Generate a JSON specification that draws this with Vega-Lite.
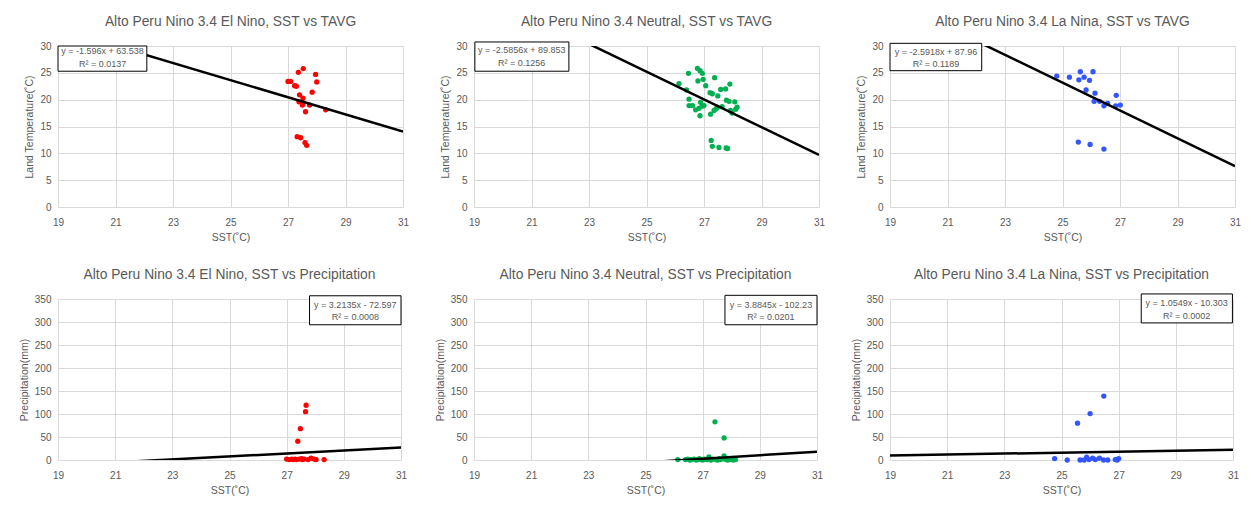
{
  "$schema": "https://vega.github.io/schema/vega-lite/v6.json",
  "background": "white",
  "padding": {"left": 19, "top": 15, "right": 3, "bottom": 6},
  "columns": 3,
  "spacing": {"row": 24, "column": 26},
  "config": {
    "font": "Liberation Sans",
    "view": {"stroke": null},
    "title": {"font": "Liberation Sans", "fontSize": 13.8, "fontWeight": "normal", "color": "#595959", "offset": 12},
    "axis": {"domain": false, "ticks": false, "grid": true, "gridColor": "#d9d9d9", "labelFont": "Liberation Sans", "labelFontSize": 10, "labelColor": "#595959", "titleFont": "Liberation Sans", "titleFontSize": 10.5, "titleFontWeight": "normal", "titleColor": "#595959", "labelOverlap": false, "labelFlush": false},
    "axisX": {"labelPadding": 10, "titlePadding": 5},
    "axisY": {"labelPadding": 7, "titlePadding": 5},
    "text": {"font": "Liberation Sans"}
  },
  "datasets": {
    "pts": [
      {"p":1,"sst":27.0,"val":23.4},{"p":1,"sst":27.09,"val":23.4},{"p":1,"sst":27.23,"val":22.6},{"p":1,"sst":27.29,"val":22.5},{"p":1,"sst":27.36,"val":25.1},{"p":1,"sst":27.53,"val":25.8},{"p":1,"sst":27.96,"val":24.7},{"p":1,"sst":28.0,"val":23.3},{"p":1,"sst":27.84,"val":21.4},{"p":1,"sst":27.4,"val":20.9},{"p":1,"sst":27.52,"val":20.3},{"p":1,"sst":27.38,"val":19.6},{"p":1,"sst":27.5,"val":19.0},{"p":1,"sst":27.53,"val":19.4},{"p":1,"sst":27.61,"val":17.75},{"p":1,"sst":27.75,"val":19.0},{"p":1,"sst":28.31,"val":18.1},{"p":1,"sst":27.32,"val":13.1},{"p":1,"sst":27.44,"val":12.9},{"p":1,"sst":27.59,"val":12.0},{"p":1,"sst":27.65,"val":11.5},
      {"p":2,"sst":26.13,"val":23.0},{"p":2,"sst":26.46,"val":24.9},{"p":2,"sst":26.77,"val":25.85},{"p":2,"sst":26.86,"val":25.4},{"p":2,"sst":26.94,"val":24.9},{"p":2,"sst":26.79,"val":23.5},{"p":2,"sst":26.97,"val":23.8},{"p":2,"sst":27.37,"val":24.1},{"p":2,"sst":27.06,"val":22.6},{"p":2,"sst":26.39,"val":21.8},{"p":2,"sst":26.48,"val":20.1},{"p":2,"sst":27.21,"val":21.3},{"p":2,"sst":27.29,"val":21.1},{"p":2,"sst":27.58,"val":21.9},{"p":2,"sst":27.75,"val":22.0},{"p":2,"sst":27.9,"val":22.9},{"p":2,"sst":27.48,"val":20.7},{"p":2,"sst":26.48,"val":18.9},{"p":2,"sst":26.6,"val":18.9},{"p":2,"sst":26.71,"val":18.1},{"p":2,"sst":26.83,"val":18.4},{"p":2,"sst":26.88,"val":19.5},{"p":2,"sst":26.86,"val":17.0},{"p":2,"sst":27.0,"val":18.9},{"p":2,"sst":27.23,"val":17.3},{"p":2,"sst":27.35,"val":18.0},{"p":2,"sst":27.46,"val":18.6},{"p":2,"sst":27.63,"val":18.7},{"p":2,"sst":27.78,"val":19.9},{"p":2,"sst":27.87,"val":19.7},{"p":2,"sst":28.07,"val":19.6},{"p":2,"sst":27.92,"val":18.0},{"p":2,"sst":27.98,"val":17.5},{"p":2,"sst":28.15,"val":18.6},{"p":2,"sst":28.1,"val":18.2},{"p":2,"sst":26.95,"val":18.8},{"p":2,"sst":27.42,"val":18.3},{"p":2,"sst":27.25,"val":12.4},{"p":2,"sst":27.29,"val":11.3},{"p":2,"sst":27.52,"val":11.1},{"p":2,"sst":27.77,"val":11.0},{"p":2,"sst":27.82,"val":10.9},
      {"p":3,"sst":24.8,"val":24.4},{"p":3,"sst":25.24,"val":24.2},{"p":3,"sst":25.57,"val":23.7},{"p":3,"sst":25.62,"val":25.2},{"p":3,"sst":25.75,"val":24.2},{"p":3,"sst":25.94,"val":23.6},{"p":3,"sst":26.06,"val":25.2},{"p":3,"sst":25.82,"val":21.8},{"p":3,"sst":26.13,"val":21.2},{"p":3,"sst":26.1,"val":19.7},{"p":3,"sst":26.29,"val":19.7},{"p":3,"sst":26.44,"val":18.85},{"p":3,"sst":26.57,"val":19.3},{"p":3,"sst":26.87,"val":20.8},{"p":3,"sst":26.85,"val":18.85},{"p":3,"sst":27.01,"val":19.0},{"p":3,"sst":25.55,"val":12.1},{"p":3,"sst":25.96,"val":11.65},{"p":3,"sst":26.44,"val":10.8},
      {"p":4,"sst":27.0,"val":2},{"p":4,"sst":27.09,"val":1},{"p":4,"sst":27.18,"val":2},{"p":4,"sst":27.23,"val":1},{"p":4,"sst":27.29,"val":2},{"p":4,"sst":27.34,"val":1},{"p":4,"sst":27.44,"val":2},{"p":4,"sst":27.52,"val":3},{"p":4,"sst":27.55,"val":1},{"p":4,"sst":27.61,"val":2},{"p":4,"sst":27.75,"val":1},{"p":4,"sst":27.85,"val":4},{"p":4,"sst":27.96,"val":2},{"p":4,"sst":28.03,"val":1},{"p":4,"sst":28.31,"val":1},{"p":4,"sst":27.39,"val":41},{"p":4,"sst":27.48,"val":68},{"p":4,"sst":27.66,"val":105},{"p":4,"sst":27.68,"val":119},
      {"p":5,"sst":26.13,"val":1},{"p":5,"sst":26.4,"val":1},{"p":5,"sst":26.48,"val":2},{"p":5,"sst":26.55,"val":0},{"p":5,"sst":26.6,"val":1},{"p":5,"sst":26.7,"val":2},{"p":5,"sst":26.77,"val":0},{"p":5,"sst":26.83,"val":1},{"p":5,"sst":26.88,"val":3},{"p":5,"sst":26.95,"val":1},{"p":5,"sst":27.0,"val":0},{"p":5,"sst":27.06,"val":2},{"p":5,"sst":27.15,"val":1},{"p":5,"sst":27.22,"val":7},{"p":5,"sst":27.29,"val":0},{"p":5,"sst":27.35,"val":2},{"p":5,"sst":27.46,"val":1},{"p":5,"sst":27.52,"val":0},{"p":5,"sst":27.58,"val":3},{"p":5,"sst":27.63,"val":1},{"p":5,"sst":27.75,"val":9},{"p":5,"sst":27.78,"val":2},{"p":5,"sst":27.87,"val":0},{"p":5,"sst":27.92,"val":1},{"p":5,"sst":27.98,"val":2},{"p":5,"sst":28.07,"val":0},{"p":5,"sst":28.15,"val":1},{"p":5,"sst":27.43,"val":83},{"p":5,"sst":27.75,"val":48},
      {"p":6,"sst":24.76,"val":3},{"p":6,"sst":25.2,"val":0},{"p":6,"sst":25.56,"val":80},{"p":6,"sst":26.0,"val":101},{"p":6,"sst":26.48,"val":139},{"p":6,"sst":25.65,"val":0},{"p":6,"sst":25.79,"val":0},{"p":6,"sst":25.88,"val":6},{"p":6,"sst":25.96,"val":1},{"p":6,"sst":26.09,"val":4},{"p":6,"sst":26.18,"val":1},{"p":6,"sst":26.33,"val":4},{"p":6,"sst":26.47,"val":0},{"p":6,"sst":26.62,"val":0},{"p":6,"sst":26.88,"val":1},{"p":6,"sst":27.0,"val":3},{"p":6,"sst":26.95,"val":0}
    ],
    "trend": [
      {"p":1,"sst":19,"val":33.214},{"p":1,"sst":31,"val":14.062},
      {"p":2,"sst":19,"val":40.727},{"p":2,"sst":31,"val":9.699},
      {"p":3,"sst":19,"val":38.716},{"p":3,"sst":31,"val":7.614},
      {"p":4,"sst":19,"val":-11.541},{"p":4,"sst":31,"val":27.022},
      {"p":5,"sst":19,"val":-28.424},{"p":5,"sst":31,"val":18.190},
      {"p":6,"sst":19,"val":9.740},{"p":6,"sst":31,"val":22.399}
    ]
  },
  "concat": [
    {
      "title": "Alto Peru Nino 3.4 El Nino, SST vs TAVG",
      "width": 345, "height": 161,
      "resolve": {"axis": {"y": "independent"}},
      "layer": [
        {"data": {"name": "pts"}, "transform": [{"filter": "datum.p === 1"}],
         "mark": {"type": "circle", "size": 28, "opacity": 1, "color": "#ff0000"},
         "encoding": {
           "x": {"field": "sst", "type": "quantitative", "title": "SST(˚C)", "scale": {"domain": [19, 31], "nice": false, "zero": false}, "axis": {"values": [19,21,23,25,27,29,31]}},
           "y": {"field": "val", "type": "quantitative", "title": "Land Temperature(˚C)", "scale": {"domain": [0, 30], "nice": false}, "axis": {"values": [0,5,10,15,20,25,30]}}
         }},
        {"data": {"name": "trend"}, "transform": [{"filter": "datum.p === 1"}],
         "mark": {"type": "line", "color": "black", "strokeWidth": 2.5, "clip": true},
         "encoding": {"x": {"field": "sst", "type": "quantitative", "title": "SST(˚C)"}, "y": {"field": "val", "type": "quantitative", "axis": {"title": null, "labels": false, "gridColor": "#ececec", "values": [1,2,3,4,6,7,8,9,11,12,13,14,16,17,18,19,21,22,23,24,26,27,28,29]}}}},
        {"data": {"values": [{}]},
         "mark": {"type": "rect", "fill": "white", "stroke": "black", "strokeWidth": 1},
         "encoding": {"x": {"datum": 19}, "x2": {"datum": 22.09}, "y": {"datum": 25.3, "axis": null}, "y2": {"datum": 30}}},
        {"data": {"values": [{}]},
         "mark": {"type": "text", "fontSize": 9, "color": "#595959", "align": "center", "baseline": "middle", "lineHeight": 12.5},
         "encoding": {"x": {"datum": 20.55}, "y": {"datum": 29.06, "axis": null}, "text": {"value": ["y = -1.596x + 63.538", "R² = 0.0137"]}}}
      ]
    },
    {
      "title": "Alto Peru Nino 3.4 Neutral, SST vs TAVG",
      "width": 345, "height": 161,
      "resolve": {"axis": {"y": "independent"}},
      "layer": [
        {"data": {"name": "pts"}, "transform": [{"filter": "datum.p === 2"}],
         "mark": {"type": "circle", "size": 28, "opacity": 1, "color": "#00b050"},
         "encoding": {
           "x": {"field": "sst", "type": "quantitative", "title": "SST(˚C)", "scale": {"domain": [19, 31], "nice": false, "zero": false}, "axis": {"values": [19,21,23,25,27,29,31]}},
           "y": {"field": "val", "type": "quantitative", "title": "Land Temperature(˚C)", "scale": {"domain": [0, 30], "nice": false}, "axis": {"values": [0,5,10,15,20,25,30]}}
         }},
        {"data": {"name": "trend"}, "transform": [{"filter": "datum.p === 2"}],
         "mark": {"type": "line", "color": "black", "strokeWidth": 2.5, "clip": true},
         "encoding": {"x": {"field": "sst", "type": "quantitative", "title": "SST(˚C)"}, "y": {"field": "val", "type": "quantitative", "axis": {"title": null, "labels": false, "gridColor": "#ececec", "values": [1,2,3,4,6,7,8,9,11,12,13,14,16,17,18,19,21,22,23,24,26,27,28,29]}}}},
        {"data": {"values": [{}]},
         "mark": {"type": "rect", "fill": "white", "stroke": "black", "strokeWidth": 1},
         "encoding": {"x": {"datum": 19.03}, "x2": {"datum": 22.3}, "y": {"datum": 25.3, "axis": null}, "y2": {"datum": 30.75}}},
        {"data": {"values": [{}]},
         "mark": {"type": "text", "fontSize": 9, "color": "#595959", "align": "center", "baseline": "middle", "lineHeight": 12.5},
         "encoding": {"x": {"datum": 20.66}, "y": {"datum": 29.2, "axis": null}, "text": {"value": ["y = -2.5856x + 89.853", "R² = 0.1256"]}}}
      ]
    },
    {
      "title": "Alto Peru Nino 3.4 La Nina, SST vs TAVG",
      "width": 345, "height": 161,
      "resolve": {"axis": {"y": "independent"}},
      "layer": [
        {"data": {"name": "pts"}, "transform": [{"filter": "datum.p === 3"}],
         "mark": {"type": "circle", "size": 28, "opacity": 1, "color": "#3355ff"},
         "encoding": {
           "x": {"field": "sst", "type": "quantitative", "title": "SST(˚C)", "scale": {"domain": [19, 31], "nice": false, "zero": false}, "axis": {"values": [19,21,23,25,27,29,31]}},
           "y": {"field": "val", "type": "quantitative", "title": "Land Temperature(˚C)", "scale": {"domain": [0, 30], "nice": false}, "axis": {"values": [0,5,10,15,20,25,30]}}
         }},
        {"data": {"name": "trend"}, "transform": [{"filter": "datum.p === 3"}],
         "mark": {"type": "line", "color": "black", "strokeWidth": 2.5, "clip": true},
         "encoding": {"x": {"field": "sst", "type": "quantitative", "title": "SST(˚C)"}, "y": {"field": "val", "type": "quantitative", "axis": {"title": null, "labels": false, "gridColor": "#ececec", "values": [1,2,3,4,6,7,8,9,11,12,13,14,16,17,18,19,21,22,23,24,26,27,28,29]}}}},
        {"data": {"values": [{}]},
         "mark": {"type": "rect", "fill": "white", "stroke": "black", "strokeWidth": 1},
         "encoding": {"x": {"datum": 19.0}, "x2": {"datum": 22.19}, "y": {"datum": 25.4, "axis": null}, "y2": {"datum": 30.5}}},
        {"data": {"values": [{}]},
         "mark": {"type": "text", "fontSize": 9, "color": "#595959", "align": "center", "baseline": "middle", "lineHeight": 12.5},
         "encoding": {"x": {"datum": 20.6}, "y": {"datum": 28.95, "axis": null}, "text": {"value": ["y = -2.5918x + 87.96", "R² = 0.1189"]}}}
      ]
    },
    {
      "title": "Alto Peru Nino 3.4 El Nino, SST vs Precipitation",
      "width": 343, "height": 161,
      "resolve": {"axis": {"y": "independent"}},
      "layer": [
        {"data": {"name": "pts"}, "transform": [{"filter": "datum.p === 4"}],
         "mark": {"type": "circle", "size": 28, "opacity": 1, "color": "#ff0000"},
         "encoding": {
           "x": {"field": "sst", "type": "quantitative", "title": "SST(˚C)", "scale": {"domain": [19, 31], "nice": false, "zero": false}, "axis": {"values": [19,21,23,25,27,29,31]}},
           "y": {"field": "val", "type": "quantitative", "title": "Precipitation(mm)", "scale": {"domain": [0, 350], "nice": false}, "axis": {"values": [0,50,100,150,200,250,300,350]}}
         }},
        {"data": {"name": "trend"}, "transform": [{"filter": "datum.p === 4"}],
         "mark": {"type": "line", "color": "black", "strokeWidth": 2.5, "clip": true},
         "encoding": {"x": {"field": "sst", "type": "quantitative", "title": "SST(˚C)"}, "y": {"field": "val", "type": "quantitative", "axis": {"title": null, "labels": false, "gridColor": "#ececec", "values": [10,20,30,40,60,70,80,90,110,120,130,140,160,170,180,190,210,220,230,240,260,270,280,290,310,320,330,340]}}}},
        {"data": {"values": [{}]},
         "mark": {"type": "rect", "fill": "white", "stroke": "black", "strokeWidth": 1},
         "encoding": {"x": {"datum": 27.8}, "x2": {"datum": 31.0}, "y": {"datum": 294, "axis": null}, "y2": {"datum": 357}}},
        {"data": {"values": [{}]},
         "mark": {"type": "text", "fontSize": 9, "color": "#595959", "align": "center", "baseline": "middle", "lineHeight": 12.5},
         "encoding": {"x": {"datum": 29.4}, "y": {"datum": 338, "axis": null}, "text": {"value": ["y = 3.2135x - 72.597", "R² = 0.0008"]}}}
      ]
    },
    {
      "title": "Alto Peru Nino 3.4 Neutral, SST vs Precipitation",
      "width": 343, "height": 161,
      "resolve": {"axis": {"y": "independent"}},
      "layer": [
        {"data": {"name": "pts"}, "transform": [{"filter": "datum.p === 5"}],
         "mark": {"type": "circle", "size": 28, "opacity": 1, "color": "#00b050"},
         "encoding": {
           "x": {"field": "sst", "type": "quantitative", "title": "SST(˚C)", "scale": {"domain": [19, 31], "nice": false, "zero": false}, "axis": {"values": [19,21,23,25,27,29,31]}},
           "y": {"field": "val", "type": "quantitative", "title": "Precipitation(mm)", "scale": {"domain": [0, 350], "nice": false}, "axis": {"values": [0,50,100,150,200,250,300,350]}}
         }},
        {"data": {"name": "trend"}, "transform": [{"filter": "datum.p === 5"}],
         "mark": {"type": "line", "color": "black", "strokeWidth": 2.5, "clip": true},
         "encoding": {"x": {"field": "sst", "type": "quantitative", "title": "SST(˚C)"}, "y": {"field": "val", "type": "quantitative", "axis": {"title": null, "labels": false, "gridColor": "#ececec", "values": [10,20,30,40,60,70,80,90,110,120,130,140,160,170,180,190,210,220,230,240,260,270,280,290,310,320,330,340]}}}},
        {"data": {"values": [{}]},
         "mark": {"type": "rect", "fill": "white", "stroke": "black", "strokeWidth": 1},
         "encoding": {"x": {"datum": 27.78}, "x2": {"datum": 31.0}, "y": {"datum": 294, "axis": null}, "y2": {"datum": 358}}},
        {"data": {"values": [{}]},
         "mark": {"type": "text", "fontSize": 9, "color": "#595959", "align": "center", "baseline": "middle", "lineHeight": 12.5},
         "encoding": {"x": {"datum": 29.39}, "y": {"datum": 337.7, "axis": null}, "text": {"value": ["y = 3.8845x - 102.23", "R² = 0.0201"]}}}
      ]
    },
    {
      "title": "Alto Peru Nino 3.4 La Nina, SST vs Precipitation",
      "width": 343, "height": 161,
      "resolve": {"axis": {"y": "independent"}},
      "layer": [
        {"data": {"name": "pts"}, "transform": [{"filter": "datum.p === 6"}],
         "mark": {"type": "circle", "size": 28, "opacity": 1, "color": "#3355ff"},
         "encoding": {
           "x": {"field": "sst", "type": "quantitative", "title": "SST(˚C)", "scale": {"domain": [19, 31], "nice": false, "zero": false}, "axis": {"values": [19,21,23,25,27,29,31]}},
           "y": {"field": "val", "type": "quantitative", "title": "Precipitation(mm)", "scale": {"domain": [0, 350], "nice": false}, "axis": {"values": [0,50,100,150,200,250,300,350]}}
         }},
        {"data": {"name": "trend"}, "transform": [{"filter": "datum.p === 6"}],
         "mark": {"type": "line", "color": "black", "strokeWidth": 2.5, "clip": true},
         "encoding": {"x": {"field": "sst", "type": "quantitative", "title": "SST(˚C)"}, "y": {"field": "val", "type": "quantitative", "axis": {"title": null, "labels": false, "gridColor": "#ececec", "values": [10,20,30,40,60,70,80,90,110,120,130,140,160,170,180,190,210,220,230,240,260,270,280,290,310,320,330,340]}}}},
        {"data": {"values": [{}]},
         "mark": {"type": "rect", "fill": "white", "stroke": "black", "strokeWidth": 1},
         "encoding": {"x": {"datum": 27.79}, "x2": {"datum": 30.98}, "y": {"datum": 298, "axis": null}, "y2": {"datum": 361}}},
        {"data": {"values": [{}]},
         "mark": {"type": "text", "fontSize": 9, "color": "#595959", "align": "center", "baseline": "middle", "lineHeight": 12.5},
         "encoding": {"x": {"datum": 29.38}, "y": {"datum": 340.6, "axis": null}, "text": {"value": ["y = 1.0549x - 10.303", "R² = 0.0002"]}}}
      ]
    }
  ]
}
